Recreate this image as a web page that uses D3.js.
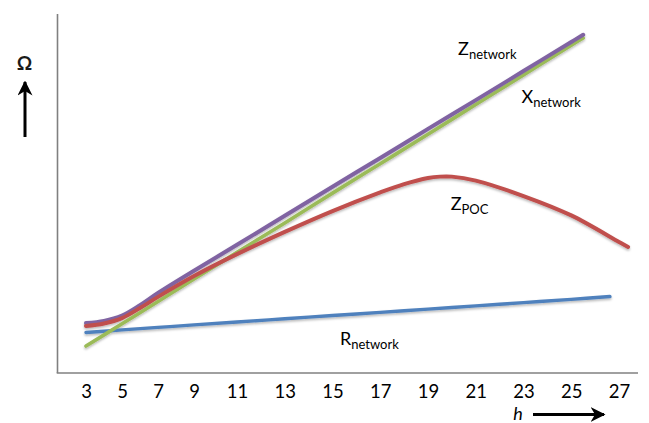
<!DOCTYPE html>
<html>
<head>
<meta charset="utf-8">
<script src="https://cdn.jsdelivr.net/npm/d3@7"></script>
<style>
  html, body { margin: 0; padding: 0; background: #fff; }
  svg { display: block; font-family: Lato, "Open Sans", sans-serif; }
</style>
</head>
<body>
<svg id="chart" width="649" height="423"></svg>
<script>
// Harmonic order ticks along the bottom axis
const hTicks = [3, 5, 7, 9, 11, 13, 15, 17, 19, 21, 23, 25, 27];

// Impedance curves (Ω, arbitrary units) versus harmonic order h
const zNetworkH = [3, 4, 5, 6, 7, 9, 11, 13, 15, 17, 19, 21, 23, 25, 25.5];
const zNetworkV = [13.9, 14.5, 16.0, 18.9, 22.3, 28.5, 35.7, 43.8, 51.9, 59.9, 68.0, 76.0, 84.1, 92.2, 94.2];

const xNetworkH = [3, 5, 7, 9, 11, 13, 15, 17, 19, 21, 23, 25, 25.5];
const xNetworkV = [7.5, 13.7, 19.9, 26.2, 33.6, 41.8, 50.1, 58.3, 66.5, 74.8, 83.0, 91.3, 93.3];

const zPocH = [3, 4, 5, 6, 7, 9, 11, 13, 15, 17, 18, 19, 19.5, 20, 21, 23, 25, 27, 27.38];
const zPocV = [13.1, 13.8, 15.3, 18.1, 21.2, 27.0, 33.1, 39.3, 45.1, 50.3, 52.6, 54.3, 54.7, 54.7, 53.6, 49.3, 43.9, 36.5, 35.1];

const rNetworkH = [3, 5, 7, 9, 11, 13, 15, 17, 19, 21, 23, 25, 26.62];
const rNetworkV = [11.3, 12.0, 12.7, 13.4, 14.2, 15.1, 16.0, 16.9, 17.8, 18.7, 19.6, 20.5, 21.3];

// Curve labels: main letter, subscript, anchor (h, Ω)
const labelMain = ["Z", "X", "Z", "R"];
const labelSub = ["network", "network", "POC", "network"];
const labelH = [20.26, 22.92, 19.95, 15.31];
const labelV = [88.6, 75.1, 45.4, 7.8];

const svg = d3.select("#chart");

// Plot frame
const frame = { left: 57.5, right: 638, top: 14, bottom: 373 };

// Tick spacing widens after h = 9
const x = d3.scaleLinear().domain([3, 9, 11, 27]).range([86, 194, 237, 619]);
const y = d3.scaleLinear().domain([0, 100]).range([frame.bottom, frame.top]);

const defs = svg.append("defs");
const shadow = defs.append("filter").attr("id", "shade")
  .attr("x", "-5%").attr("y", "-5%").attr("width", "110%").attr("height", "120%");
shadow.append("feDropShadow")
  .attr("dx", 0).attr("dy", 1.6).attr("stdDeviation", 1.1)
  .attr("flood-color", "#000").attr("flood-opacity", 0.28);

const arrowHead = defs.append("marker").attr("id", "arrow")
  .attr("viewBox", "0 0 10 10").attr("refX", 9).attr("refY", 5)
  .attr("markerWidth", 5).attr("markerHeight", 5)
  .attr("markerUnits", "strokeWidth").attr("orient", "auto");
arrowHead.append("path").attr("d", "M0,0 L10,5 L0,10 L3,5 Z").attr("fill", "#000");

// Axis lines
svg.append("line")
  .attr("x1", frame.left).attr("x2", frame.left)
  .attr("y1", frame.top).attr("y2", frame.bottom)
  .attr("stroke", "#808080").attr("stroke-width", 1.6);
svg.append("line")
  .attr("x1", frame.left - 0.8).attr("x2", frame.right)
  .attr("y1", frame.bottom).attr("y2", frame.bottom)
  .attr("stroke", "#808080").attr("stroke-width", 1.6);

// Bottom tick labels
const xAxis = svg.append("g")
  .attr("transform", `translate(0,${frame.bottom})`)
  .call(d3.axisBottom(x).tickValues(hTicks).tickSize(0).tickPadding(12).tickFormat(d3.format("d")));
xAxis.select(".domain").remove();
xAxis.selectAll("text")
  .attr("font-family", "Lato, sans-serif")
  .attr("font-size", 18.5)
  .attr("fill", "#000");

// Series lines
const line = d3.line()
  .x(d => x(d[0]))
  .y(d => y(d[1]))
  .curve(d3.curveCatmullRom.alpha(0.5));

const series = [
  { h: rNetworkH, v: rNetworkV, color: "#4F81BD", w: 3.4 },
  { h: xNetworkH, v: xNetworkV, color: "#9BBB59", w: 3.6 },
  { h: zNetworkH, v: zNetworkV, color: "#8064A2", w: 4.0 },
  { h: zPocH, v: zPocV, color: "#C0504D", w: 4.0 }
];

svg.append("g").attr("filter", "url(#shade)")
  .selectAll("path")
  .data(series)
  .join("path")
  .attr("d", s => line(s.h.map((h, i) => [h, s.v[i]])))
  .attr("fill", "none")
  .attr("stroke", s => s.color)
  .attr("stroke-width", s => s.w)
  .attr("stroke-linecap", "round")
  .attr("stroke-linejoin", "round");

// Curve labels with subscripts
const labels = svg.append("g").attr("fill", "#000");
labelMain.forEach((m, i) => {
  const t = labels.append("text")
    .attr("x", x(labelH[i]))
    .attr("y", y(labelV[i]))
    .attr("font-size", 18);
  t.append("tspan").text(m);
  t.append("tspan").attr("dy", 4).attr("font-size", 13).text(labelSub[i]);
});

// Vertical quantity: Ω with upward arrow
svg.append("text")
  .attr("x", 24.5).attr("y", 70)
  .attr("text-anchor", "middle")
  .attr("font-size", 19)
  .attr("font-weight", "bold")
  .attr("fill", "#1a1a1a")
  .text("Ω");
svg.append("line")
  .attr("x1", 25).attr("x2", 25)
  .attr("y1", 137).attr("y2", 82)
  .attr("stroke", "#000").attr("stroke-width", 3)
  .attr("marker-end", "url(#arrow)");

// Horizontal quantity: h with rightward arrow
svg.append("text")
  .attr("x", 518).attr("y", 420)
  .attr("text-anchor", "middle")
  .attr("font-size", 18)
  .attr("font-style", "italic")
  .attr("fill", "#000")
  .text("h");
svg.append("line")
  .attr("x1", 533).attr("x2", 604)
  .attr("y1", 414.5).attr("y2", 414.5)
  .attr("stroke", "#000").attr("stroke-width", 3)
  .attr("marker-end", "url(#arrow)");
</script>
</body>
</html>
